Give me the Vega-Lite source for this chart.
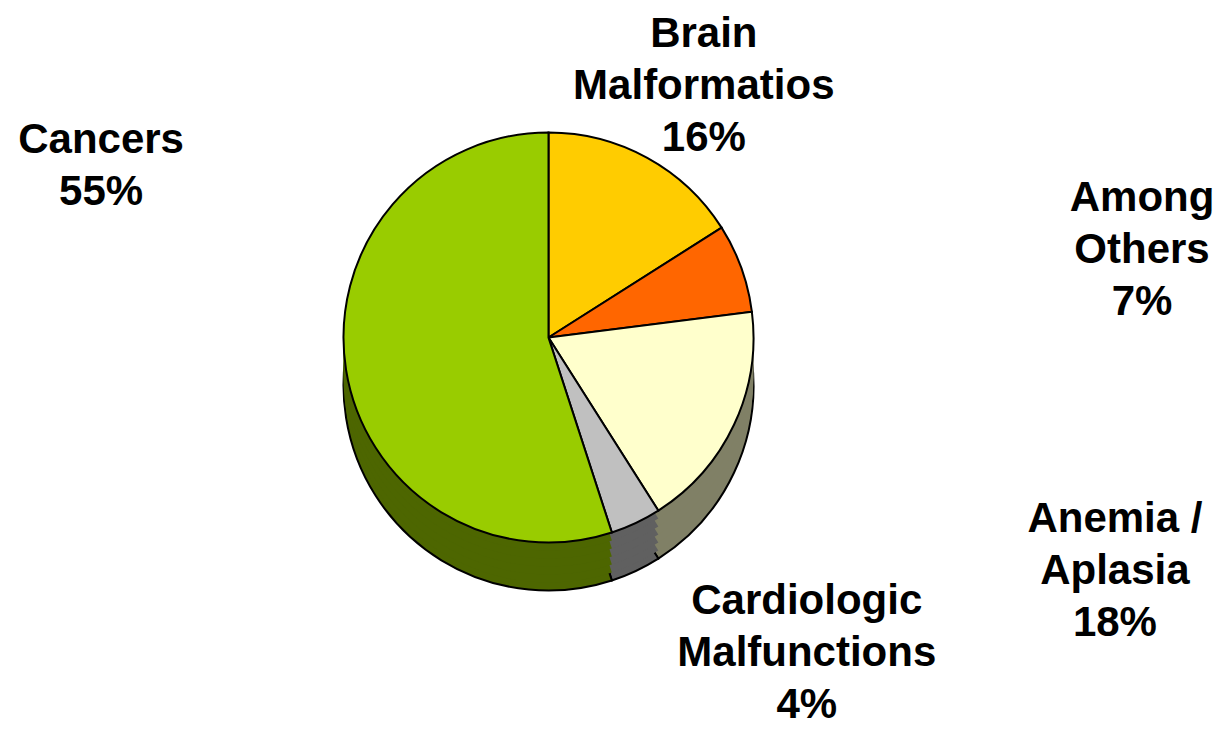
{
  "$schema": "https://vega.github.io/schema/vega-lite/v6.json",
  "width": 1221,
  "height": 731,
  "padding": 0,
  "autosize": {"type": "none"},
  "background": "white",
  "config": {"view": {"stroke": null}},
  "data": {
    "values": [
      {"k": 1, "cat": "Brain Malformatios", "pct": 16, "label": "Brain\nMalformatios\n16%"},
      {"k": 2, "cat": "Among Others", "pct": 7, "label": "Among\nOthers\n7%"},
      {"k": 3, "cat": "Anemia / Aplasia", "pct": 18, "label": "Anemia /\nAplasia\n18%"},
      {"k": 4, "cat": "Cardiologic Malfunctions", "pct": 4, "label": "Cardiologic\nMalfunctions\n4%"},
      {"k": 5, "cat": "Cancers", "pct": 55, "label": "Cancers\n55%"}
    ]
  },
  "encoding": {
    "theta": {"field": "pct", "type": "quantitative", "stack": true},
    "order": {"field": "k", "type": "quantitative"}
  },
  "layer": [
    {
      "mark": {"type": "arc", "outerRadius": 205, "xOffset": -62, "yOffset": 20, "stroke": "black", "strokeWidth": 2},
      "encoding": {
        "fill": {"field": "cat", "type": "nominal", "legend": null,
          "scale": {"domain": ["Brain Malformatios", "Among Others", "Anemia / Aplasia", "Cardiologic Malfunctions", "Cancers"],
                    "range": ["#806600", "#803300", "#808066", "#606060", "#4d6600"]}}
      }
    },
    {
      "mark": {"type": "arc", "outerRadius": 205, "xOffset": -62, "yOffset": 12},
      "encoding": {"fill": {"field": "cat", "type": "nominal", "legend": null}}
    },
    {
      "mark": {"type": "arc", "outerRadius": 205, "xOffset": -62, "yOffset": 4},
      "encoding": {"fill": {"field": "cat", "type": "nominal", "legend": null}}
    },
    {
      "mark": {"type": "arc", "outerRadius": 205, "xOffset": -62, "yOffset": -4},
      "encoding": {"fill": {"field": "cat", "type": "nominal", "legend": null}}
    },
    {
      "mark": {"type": "arc", "outerRadius": 205, "xOffset": -62, "yOffset": -12},
      "encoding": {"fill": {"field": "cat", "type": "nominal", "legend": null}}
    },
    {
      "mark": {"type": "arc", "outerRadius": 205, "xOffset": -62, "yOffset": -20},
      "encoding": {"fill": {"field": "cat", "type": "nominal", "legend": null}}
    },
    {
      "mark": {"type": "arc", "outerRadius": 205, "xOffset": -62, "yOffset": -28, "stroke": "black", "strokeWidth": 2, "opacity": 1},
      "encoding": {
        "color": {"field": "cat", "type": "nominal", "legend": null,
          "scale": {"domain": ["Brain Malformatios", "Among Others", "Anemia / Aplasia", "Cardiologic Malfunctions", "Cancers"],
                    "range": ["#ffcc00", "#ff6600", "#ffffcc", "#c0c0c0", "#99cc00"]}}
      }
    },
    {
      "mark": {"type": "text", "radius": 285, "xOffset": -62, "yOffset": -30, "dx": 18, "dy": -52, "font": "Liberation Sans", "fontWeight": "bold", "fontSize": 42, "lineHeight": 52, "lineBreak": "\n", "align": "center", "baseline": "middle", "color": "black"},
      "encoding": {"text": {"condition": {"test": "datum.k == 1", "field": "label"}, "value": ""}}
    },
    {
      "mark": {"type": "text", "radius": 600, "xOffset": -62, "yOffset": -30, "dx": 29, "dy": 66, "font": "Liberation Sans", "fontWeight": "bold", "fontSize": 42, "lineHeight": 52, "lineBreak": "\n", "align": "center", "baseline": "middle", "color": "black"},
      "encoding": {"text": {"condition": {"test": "datum.k == 2", "field": "label"}, "value": ""}}
    },
    {
      "mark": {"type": "text", "radius": 626, "xOffset": -62, "yOffset": -30, "dx": 0, "dy": -83, "font": "Liberation Sans", "fontWeight": "bold", "fontSize": 42, "lineHeight": 52, "lineBreak": "\n", "align": "center", "baseline": "middle", "color": "black"},
      "encoding": {"text": {"condition": {"test": "datum.k == 3", "field": "label"}, "value": ""}}
    },
    {
      "mark": {"type": "text", "radius": 360, "xOffset": -62, "yOffset": -30, "dx": 105, "dy": -60, "font": "Liberation Sans", "fontWeight": "bold", "fontSize": 42, "lineHeight": 52, "lineBreak": "\n", "align": "center", "baseline": "middle", "color": "black"},
      "encoding": {"text": {"condition": {"test": "datum.k == 4", "field": "label"}, "value": ""}}
    },
    {
      "mark": {"type": "text", "radius": 453, "xOffset": -62, "yOffset": -30, "dx": 0, "dy": -266, "font": "Liberation Sans", "fontWeight": "bold", "fontSize": 42, "lineHeight": 52, "lineBreak": "\n", "align": "center", "baseline": "middle", "color": "black"},
      "encoding": {"text": {"condition": {"test": "datum.k == 5", "field": "label"}, "value": ""}}
    }
  ]
}
